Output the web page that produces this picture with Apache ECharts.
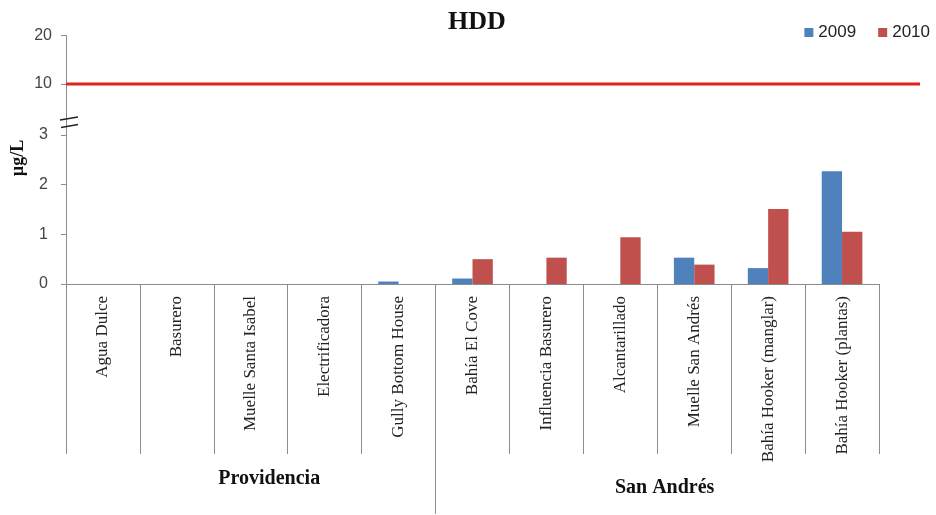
<!DOCTYPE html>
<html>
<head>
<meta charset="utf-8">
<script src="https://cdn.jsdelivr.net/npm/echarts@6/dist/echarts.min.js"></script>
<style>
html,body{margin:0;padding:0;background:#fff;}
#chart{width:936px;height:515px;}
</style>
</head>
<body>
<div id="chart"></div>
<script>
const categories = ['Agua Dulce','Basurero','Muelle Santa Isabel','Electrificadora','Gully Bottom House','Bahía El Cove','Influencia Basurero','Alcantarillado','Muelle San Andrés','Bahía Hooker (manglar)','Bahía Hooker (plantas)'];
const values2009 = [0, 0, 0, 0, 0.05, 0.11, 0, 0, 0.53, 0.32, 2.27];
const values2010 = [0, 0, 0, 0, 0, 0.50, 0.53, 0.94, 0.39, 1.51, 1.05];
const seriesNames = ['2009', '2010'];
const groups = ['Providencia', 'San Andrés'];
const groupSizes = [5, 6];
const limitValue = 10;
const upperTicks = [10, 20];
const lowerTicks = [0, 1, 2, 3];

const groupBoundary = groupSizes[0];
const groupLabelPos = [2.75, 8.1];

const chart = echarts.init(document.getElementById('chart'), null, {renderer: 'canvas'});
const axisGray = '#8c8c8c';
const serif = '"Liberation Serif", "Times New Roman", serif';
const sans = '"Liberation Sans", Arial, sans-serif';

const option = {
  animation: false,
  backgroundColor: '#ffffff',
  title: {
    text: 'HDD',
    left: 448,
    top: 9,
    padding: 0,
    textStyle: {fontFamily: serif, fontWeight: 'bold', fontSize: 26, color: '#111'}
  },
  legend: {
    data: seriesNames,
    right: 1,
    top: 19,
    icon: 'rect',
    itemWidth: 9,
    itemHeight: 9,
    itemGap: 22,
    textStyle: {fontFamily: sans, fontSize: 17, color: '#222'}
  },
  grid: [
    {left: 66, right: 16, top: 35.5, height: 86.5},
    {left: 66, right: 57, top: 122, height: 162}
  ],
  xAxis: [
    {gridIndex: 0, type: 'value', min: 0, max: 1, show: false},
    {
      gridIndex: 1, type: 'category', data: categories, position: 'bottom',
      axisLine: {show: true, lineStyle: {color: axisGray, width: 1}},
      axisTick: {show: true, interval: 0, alignWithLabel: false, length: 170, lineStyle: {color: axisGray, width: 1}},
      axisLabel: {rotate: 90, interval: 0, margin: 12, fontFamily: serif, fontSize: 17, color: '#222'}
    },
    {
      gridIndex: 1, type: 'value', min: 0, max: categories.length, position: 'bottom',
      axisLine: {show: false},
      splitLine: {show: false},
      axisTick: {show: true, length: 230, customValues: [groupBoundary], lineStyle: {color: axisGray}},
      axisLabel: {
        customValues: groupLabelPos,
        margin: 185,
        formatter: function (v) {
          return v < groupBoundary ? '{p|' + groups[0] + '}' : '{s|' + groups[1] + '}';
        },
        rich: {
          p: {fontFamily: serif, fontWeight: 'bold', fontSize: 20, color: '#111'},
          s: {fontFamily: serif, fontWeight: 'bold', fontSize: 20, color: '#111', padding: [9, 0, 0, 0]}
        }
      }
    }
  ],
  yAxis: [
    {
      gridIndex: 0, type: 'value', min: 2.16, max: 20,
      splitLine: {show: false},
      axisLine: {show: true, lineStyle: {color: axisGray}},
      axisTick: {show: true, length: 5, customValues: upperTicks, lineStyle: {color: axisGray}},
      axisLabel: {customValues: upperTicks, margin: 14, fontFamily: sans, fontSize: 16, color: '#444'}
    },
    {
      gridIndex: 1, type: 'value', min: 0, max: 3.26,
      splitLine: {show: false},
      axisLine: {show: true, lineStyle: {color: axisGray}},
      axisTick: {show: true, length: 5, customValues: lowerTicks, lineStyle: {color: axisGray}},
      axisLabel: {customValues: lowerTicks, margin: 18, fontFamily: sans, fontSize: 16, color: '#444'}
    }
  ],
  series: [
    {
      name: seriesNames[0], type: 'bar', xAxisIndex: 1, yAxisIndex: 1,
      data: values2009, barGap: '0%', barCategoryGap: '45%',
      itemStyle: {color: '#4F81BD'}
    },
    {
      name: seriesNames[1], type: 'bar', xAxisIndex: 1, yAxisIndex: 1,
      data: values2010, barGap: '0%', barCategoryGap: '45%',
      itemStyle: {color: '#C0504D'}
    },
    {
      name: 'limit', type: 'line', xAxisIndex: 0, yAxisIndex: 0,
      data: [[0, limitValue], [1, limitValue]],
      symbol: 'none', silent: true,
      lineStyle: {color: '#E2231A', width: 3}
    }
  ],
  graphic: [
    {type: 'line', shape: {x1: 60, y1: 120, x2: 78, y2: 117}, style: {stroke: '#222', lineWidth: 1.3}, z: 100},
    {type: 'line', shape: {x1: 61, y1: 127.5, x2: 78, y2: 124.5}, style: {stroke: '#222', lineWidth: 1.3}, z: 100},
    {
      type: 'text', x: 18, y: 158, rotation: Math.PI / 2,
      style: {text: 'µg/L', font: 'bold 18px ' + serif, fill: '#111', align: 'center', verticalAlign: 'middle'}
    }
  ]
};
chart.setOption(option);
</script>
</body>
</html>
